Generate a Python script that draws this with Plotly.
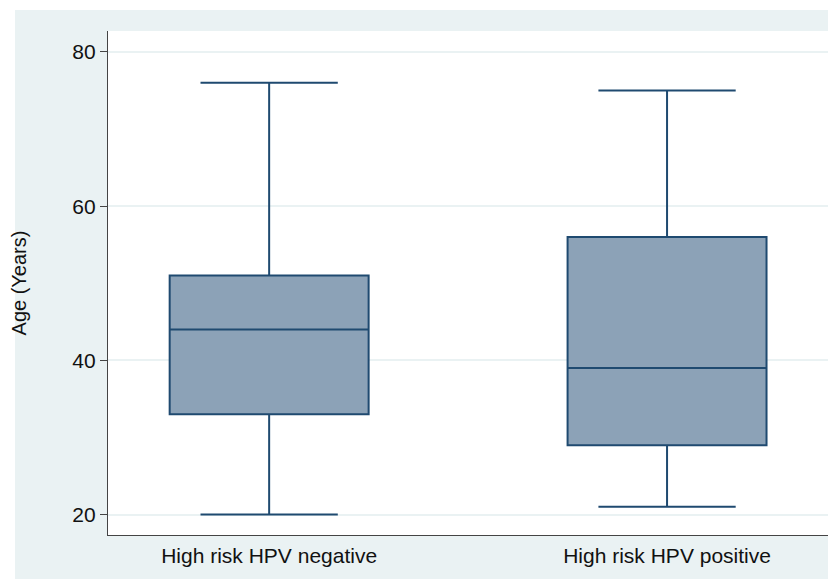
import plotly.graph_objects as go

categories = ["High risk HPV negative", "High risk HPV positive"]
lower_whisker = [20, 21]
q1 = [33, 29]
median = [44, 39]
q3 = [51, 56]
upper_whisker = [76, 75]
y_ticks = [20, 40, 60, 80]

BG = "#EAF2F3"
LINE = "#1F4A70"
FILL = "#8CA2B7"
AX = "#444444"

W, H = 828, 571
L, R, T, B = 100, 7, 23, 44
PW, PH = W - L - R, H - T - B

fig = go.Figure()
for i, c in enumerate(categories):
    fig.add_trace(go.Box(
        x=[c], q1=[q1[i]], median=[median[i]], q3=[q3[i]],
        lowerfence=[lower_whisker[i]], upperfence=[upper_whisker[i]],
        fillcolor=FILL, line=dict(color=LINE, width=2),
        width=0.5, whiskerwidth=0.69, boxpoints=False,
        showlegend=False, hoverinfo="skip",
    ))

fig.update_layout(
    width=W, height=H,
    margin=dict(l=L, r=R, t=T, b=B),
    paper_bgcolor=BG, plot_bgcolor="white",
    font=dict(family="Liberation Sans, Arial, sans-serif", size=21, color="#111111"),
    xaxis=dict(
        type="category", range=[-0.405, 1.407],
        showline=True, linecolor=AX, linewidth=1.2, mirror=False,
        showgrid=False, ticks="", ticklabelstandoff=2,
        zeroline=False,
    ),
    yaxis=dict(
        range=[17.35, 82.72], tickvals=y_ticks,
        showline=True, linecolor=AX, linewidth=1.2,
        ticks="outside", ticklen=7, tickcolor=AX, tickwidth=1.2,
        showgrid=True, gridcolor=BG, gridwidth=1.5, zeroline=False,
        title=dict(text="Age (Years)", standoff=40, font=dict(size=20)),
    ),
    shapes=[
        dict(type="rect", xref="paper", yref="paper",
             x0=-L / PW, x1=(-L + 7) / PW, y0=-B / PH, y1=(PH + T) / PH,
             fillcolor="white", line=dict(width=0), layer="above"),
        dict(type="rect", xref="paper", yref="paper",
             x0=-L / PW, x1=(W - L) / PW, y0=(PH + T - 2) / PH, y1=(PH + T) / PH,
             fillcolor="white", line=dict(width=0), layer="above"),
    ],
)

fig.write_html("out.html")
